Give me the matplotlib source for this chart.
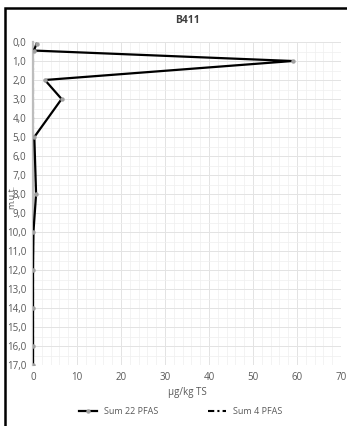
import numpy as np
from matplotlib import pyplot as plt
from matplotlib.patches import Rectangle
from matplotlib.ticker import MultipleLocator, FuncFormatter

plt.rcParams['font.family'] = ['Open Sans', 'DejaVu Sans']

# depth (m below ground) and concentrations (ug/kg TS)
depth_22 = [0.1, 0.45, 1.0, 2.0, 3.0, 5.0, 8.0, 10.0, 12.0, 14.0, 16.0, 17.0]
sum_22_pfas = [0.8, 0.2, 59.0, 2.7, 6.5, 0.3, 0.7, 0.1, 0.0, 0.0, 0.0, 0.0]

depth_4 = [0.1, 0.45, 1.0, 2.0, 3.0, 5.0, 8.0, 10.0, 12.0, 14.0, 16.0, 17.0]
sum_4_pfas = [0.0, 0.0, 0.0, 0.0, 0.0, 0.0, 0.0, 0.0, 0.0, 0.0, 0.0, 0.0]

fig = plt.figure(figsize=(3.47, 4.26), dpi=100)
ax = fig.add_axes([33 / 347, 1 - 365 / 426, 308 / 347, 323 / 426])

ax.plot(sum_4_pfas, depth_4, color='black', lw=1.5, ls=(0, (3, 1.5, 1, 1.5)),
        zorder=2, label='Sum 4 PFAS')
ax.plot(sum_22_pfas, depth_22, color='black', lw=1.6, zorder=3,
        marker='o', ms=2.2, mfc='#a0a0a0', mec='#a0a0a0', label='Sum 22 PFAS')

ax.set_xlim(0, 70)
ax.set_ylim(17, 0)
ax.xaxis.set_major_locator(MultipleLocator(10))
ax.xaxis.set_minor_locator(MultipleLocator(2))
ax.yaxis.set_major_locator(MultipleLocator(1))
ax.yaxis.set_minor_locator(MultipleLocator(0.5))
ax.yaxis.set_major_formatter(FuncFormatter(lambda v, p: f'{v:.1f}'.replace('.', ',')))

ax.grid(True, which='major', color='#e3e3e3', lw=0.7)
ax.grid(True, which='minor', color='#efefef', lw=0.5)
ax.set_axisbelow(True)
for side in ['top', 'right', 'bottom']:
    ax.spines[side].set_visible(False)
ax.spines['left'].set_color('#bdbdbd')
ax.spines['left'].set_linewidth(1.6)
ax.spines['left'].set_zorder(2.5)
ax.tick_params(which='both', length=0, labelsize=7, colors='#595959', pad=5)

ax.set_title('B411', fontsize=7.5, color='#404040', fontweight='bold', pad=14)
ax.set_xlabel('µg/kg TS', fontsize=7, color='#595959', labelpad=3)
fig.text(12 / 347, 1 - 197 / 426, 'm.u.t.', rotation=90, fontsize=6.5,
         color='#595959', ha='center', va='center')

handles, labels = ax.get_legend_handles_labels()
leg = fig.legend(handles[::-1], labels[::-1], loc='center', ncol=2,
                 bbox_to_anchor=(0.52, 1 - 412 / 426), frameon=False,
                 fontsize=6.5, handlelength=2, columnspacing=5.5)
for t in leg.get_texts():
    t.set_color('#595959')

# outer chart frame, cut off on the right and bottom
fig.patches.append(Rectangle((5 / 347, -0.2), 1.5, 1.2 - 7 / 426 - 0.003,
                             transform=fig.transFigure, fill=False,
                             ec='black', lw=1.8, zorder=10))

fig.savefig('out.png', dpi=100)
